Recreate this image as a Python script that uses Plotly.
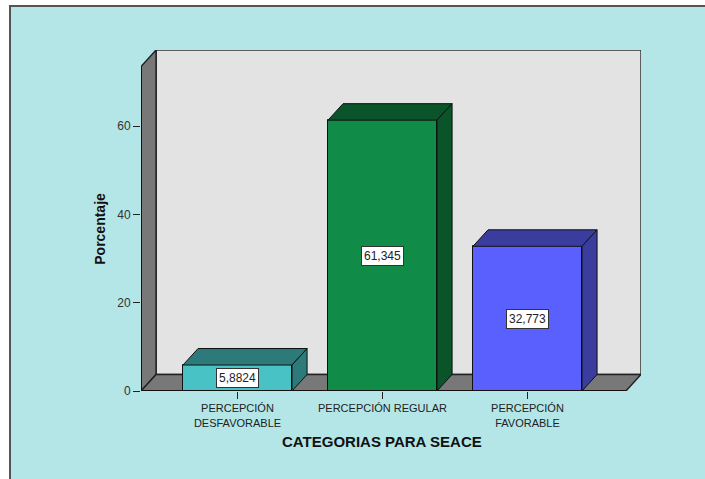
import plotly.graph_objects as go

# ---- data ----
categories = ["PERCEPCIÓN<br>DESFAVORABLE", "PERCEPCIÓN REGULAR", "PERCEPCIÓN<br>FAVORABLE"]
values = [5.8824, 61.345, 32.773]
front_colors = ["#48c2c4", "#108b48", "#5a60fd"]
dark_colors = ["#2c7a7a", "#0a5429", "#3a3c9e"]
y_ticks = [0, 20, 40, 60]
x_title = "CATEGORIAS PARA SEACE"
y_title = "Porcentaje"

# ---- layout geometry (axis units) ----
X_MIN, X_MAX = -0.6655, 2.783
Y_MAX = 77.24
DX, DY = 0.104, 3.74          # 3-D depth offset
WALL_TOP = 73.5
FLOOR_RIGHT = X_MAX - DX
BAR_W = 0.752

xs = list(range(len(values)))
labels = [f"{v:.5g}".replace(".", ",") for v in values]

fig = go.Figure()

# front faces
fig.add_trace(go.Bar(
    x=xs, y=values, width=BAR_W,
    marker=dict(color=front_colors, line=dict(color="#111111", width=1)),
    hoverinfo="skip", showlegend=False,
))

# top + side faces
for x, v, dc in zip(xs, values, dark_colors):
    l, r = x - BAR_W / 2, x + BAR_W / 2
    fig.add_trace(go.Scatter(
        x=[l, r, r + DX, l + DX, l], y=[v, v, v + DY, v + DY, v],
        fill="toself", fillcolor=dc, mode="lines",
        line=dict(color="#111111", width=1), hoverinfo="skip", showlegend=False))
    fig.add_trace(go.Scatter(
        x=[r, r + DX, r + DX, r, r], y=[0, DY, v + DY, v, 0],
        fill="toself", fillcolor=dc, mode="lines",
        line=dict(color="#111111", width=1), hoverinfo="skip", showlegend=False))

def poly(pts):
    return "M " + " L ".join(f"{a},{b}" for a, b in pts) + " Z"

shapes = [
    # outer cyan frame
    dict(type="rect", xref="paper", yref="paper", x0=-0.262, x1=1.3, y0=-0.5, y1=1.129,
         fillcolor="#b4e6e7", line=dict(color="#555555", width=2), layer="below"),
    # back wall
    dict(type="path", xref="x", yref="y",
         path=poly([(X_MIN + DX, DY), (X_MAX, DY), (X_MAX, WALL_TOP + DY), (X_MIN + DX, WALL_TOP + DY)]),
         fillcolor="#e3e3e3", line=dict(color="#333333", width=1.5), layer="below"),
    # left wall
    dict(type="path", xref="x", yref="y",
         path=poly([(X_MIN, 0), (X_MIN, WALL_TOP), (X_MIN + DX, WALL_TOP + DY), (X_MIN + DX, DY)]),
         fillcolor="#787878", line=dict(color="#222222", width=1.5), layer="below"),
    # floor
    dict(type="path", xref="x", yref="y",
         path=poly([(X_MIN, 0), (FLOOR_RIGHT, 0), (X_MAX, DY), (X_MIN + DX, DY)]),
         fillcolor="#787878", line=dict(color="#222222", width=1.5), layer="below"),
    # front floor edge / axis line
    dict(type="line", xref="x", yref="y", x0=X_MIN, x1=FLOOR_RIGHT, y0=0, y1=0,
         line=dict(color="#111111", width=2), layer="above"),
    dict(type="line", xref="x", yref="y", x0=X_MIN, x1=X_MIN, y0=0, y1=WALL_TOP,
         line=dict(color="#111111", width=2), layer="above"),
]

annotations = [
    dict(x=x, y=v / 2, xref="x", yref="y", text=t, showarrow=False,
         font=dict(family="Arial, Liberation Sans", size=12, color="#222222"),
         bgcolor="#ffffff", bordercolor="#333333", borderwidth=1, borderpad=2)
    for x, v, t in zip(xs, values, labels)
]
annotations.append(dict(x=-0.082, y=WALL_TOP / 2, xref="paper", yref="y", text=f"<b>{y_title}</b>",
                        textangle=-90, showarrow=False, xanchor="center", yanchor="middle",
                        font=dict(family="Arial, Liberation Sans", size=14, color="#111111")))
annotations.append(dict(x=1, y=-0.1487, xref="x", yref="paper", text=f"<b>{x_title}</b>",
                        showarrow=False, yanchor="middle", xanchor="center",
                        font=dict(family="Arial, Liberation Sans", size=15, color="#111111")))

fig.update_layout(
    width=705, height=479,
    margin=dict(l=141, r=64, t=50, b=88),
    paper_bgcolor="#ffffff", plot_bgcolor="rgba(0,0,0,0)",
    separators=",.",
    shapes=shapes, annotations=annotations,
    bargap=0,
    xaxis=dict(range=[X_MIN, X_MAX], tickvals=xs, ticktext=categories,
               ticks="outside", ticklen=7, tickcolor="#222222", tickwidth=1,
               showgrid=False, zeroline=False, showline=False, fixedrange=True,
               tickfont=dict(family="Arial, Liberation Sans", size=11, color="#222222")),
    yaxis=dict(range=[0, Y_MAX], tickvals=y_ticks, ticks="outside", ticklen=7,
               tickcolor="#222222", tickwidth=1,
               showgrid=False, zeroline=False, showline=False, fixedrange=True,
               tickfont=dict(family="Arial, Liberation Sans", size=12, color="#333333")),
    showlegend=False,
)

# remove the default page margin so the figure sits at the window origin
fig.write_html("out.html", config={"displayModeBar": False},
               post_script="document.body.style.margin='0px';")
